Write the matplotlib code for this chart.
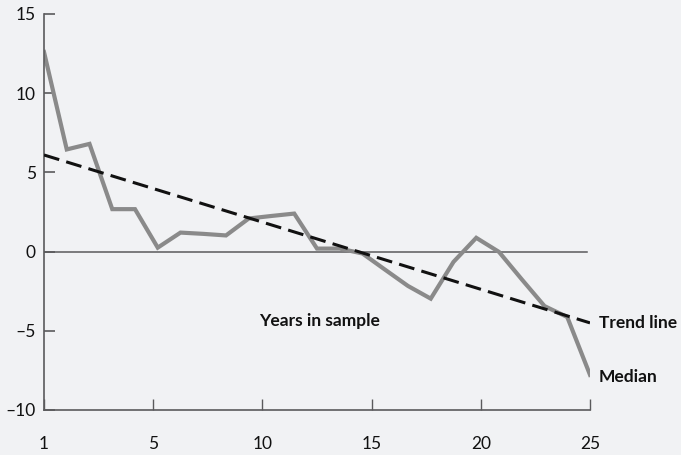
import matplotlib
matplotlib.use("Agg")
import matplotlib.pyplot as plt
import numpy as np

years = list(range(1, 26))
median = [12.6, 6.45, 6.8, 2.68, 2.68, 0.25, 1.2, 1.12, 1.02, 2.09, 2.25, 2.4,
          0.19, 0.19, -0.12, -1.15, -2.17, -2.97, -0.65, 0.87, -0.02, -1.75,
          -3.44, -4.13, -7.78]
trend_years = [1, 25]
trend_vals = [6.1, -4.5]
xtick_labels = ["1", "5", "10", "15", "20", "25"]
yticks = [-10, -5, 0, 5, 10, 15]

BG = "#f1f2f4"
AX = "#5a5a5c"
plt.rcParams['font.family'] = ['Lato', 'DejaVu Sans']

fig = plt.figure(figsize=(6.81, 4.55), dpi=100, facecolor=BG)
ax = fig.add_axes([44/681, 1-410/455, (590-44)/681, (410-14)/455])
ax.set_facecolor(BG)

ax.axhline(0, xmin=0, xmax=(587-44)/(590-44), color=AX, lw=1.1, zorder=1)
ax.plot(years, median, color="#8a8a8a", lw=3.0, solid_joinstyle="miter", zorder=2)
ax.plot(trend_years, trend_vals, color="#111111", lw=2.2,
        linestyle=(0, (5.2, 2.4)), zorder=3)

ax.set_xlim(1, 25)
ax.set_ylim(-10, 15)
ax.set_xticks(np.linspace(1, 25, len(xtick_labels)))
ax.set_xticklabels(xtick_labels)
ax.set_yticks(yticks)
ax.set_yticklabels([str(v).replace("-", "\u2013") for v in yticks])

for s in ["top", "right"]:
    ax.spines[s].set_visible(False)
for s in ["left", "bottom"]:
    ax.spines[s].set_color(AX)
    ax.spines[s].set_linewidth(1.2)

ax.tick_params(axis="y", direction="in", length=8, width=1.2, color=AX,
               labelsize=12.5, pad=6, labelcolor="#111111")
ax.tick_params(axis="x", direction="in", length=8, width=1.0, color=AX,
               labelsize=12.5, pad=19, labelcolor="#111111")

ax.text(13.1, -4.35, "Years in sample", fontsize=12.5, fontweight="bold",
        ha="center", va="center", color="#111111")
ax.text(25.4, -4.5, "Trend line", fontsize=12.5, fontweight="bold",
        ha="left", va="center", color="#111111", clip_on=False)
ax.text(25.4, -7.9, "Median", fontsize=12.5, fontweight="bold",
        ha="left", va="center", color="#111111", clip_on=False)

fig.savefig("out.png", dpi=100, facecolor=BG)
